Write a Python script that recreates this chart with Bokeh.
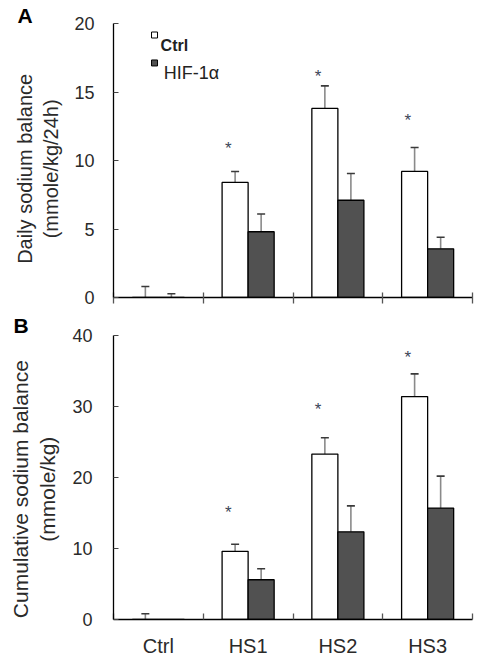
from bokeh.plotting import figure
from bokeh.models import (ColumnDataSource, Whisker, TeeHead, FixedTicker, Range1d)
from bokeh.layouts import column
from bokeh.core.properties import value
from bokeh.embed import file_html
from bokeh.resources import INLINE

categories = ["Ctrl", "HS1", "HS2", "HS3"]
series_names = ["Ctrl", "HIF-1\u03b1"]

daily_ctrl = [0.0, 8.4, 13.8, 9.2]
daily_ctrl_err = [0.8, 0.8, 1.65, 1.75]
daily_hif = [0.0, 4.8, 7.1, 3.55]
daily_hif_err = [0.27, 1.3, 1.95, 0.85]
daily_star = [None, 11.05, 16.3, 13.1]

cum_ctrl = [0.0, 9.6, 23.3, 31.4]
cum_ctrl_err = [0.8, 1.0, 2.3, 3.2]
cum_hif = [0.0, 5.6, 12.35, 15.7]
cum_hif_err = [0.0, 1.55, 3.65, 4.5]
cum_star = [None, 15.35, 29.8, 37.2]

daily_ticks = [0, 5, 10, 15, 20]
cum_ticks = [0, 10, 20, 30, 40]

FONT = "Liberation Sans"
BAR_W = 0.29
OFF = 0.145
HIF_FILL = "#515151"
NB = "\u00a0"


def make_panel(width, height, borders, ymax, yticks, ctrl, ctrl_err, hif, hif_err, star,
               show_xlabels, xtick_in, xtick_out, ylabel, ylabel_size, ylabel_standoff,
               letter, letter_offset, letter_standoff, ystandoff):
    left, right, top, bottom = borders
    p = figure(width=width, height=height, output_backend="svg", toolbar_location=None,
               x_range=Range1d(0, 4), y_range=Range1d(0, ymax),
               min_border_left=left, min_border_right=right,
               min_border_top=top, min_border_bottom=bottom)
    p.outline_line_color = None
    p.xgrid.visible = False
    p.ygrid.visible = False
    p.background_fill_color = "white"
    p.border_fill_color = "white"

    n = len(categories)
    xc = [i + 0.5 - OFF for i in range(n)]
    xh = [i + 0.5 + OFF for i in range(n)]

    p.vbar(x=xc, top=ctrl, bottom=0, width=BAR_W, fill_color="white",
           line_color="black", line_width=1.3)
    p.vbar(x=xh, top=hif, bottom=0, width=BAR_W, fill_color=HIF_FILL,
           line_color="black", line_width=1.3)

    ex, elo, ehi = [], [], []
    for xs, vals, errs in ((xc, ctrl, ctrl_err), (xh, hif, hif_err)):
        for x, v, e in zip(xs, vals, errs):
            if e > 0:
                ex.append(x)
                elo.append(v)
                ehi.append(v + e)
    src = ColumnDataSource(dict(x=ex, lower=elo, upper=ehi))
    w = Whisker(source=src, base="x", lower="lower", upper="upper", dimension="height",
                line_color="#8a8a8a", line_width=1.6,
                upper_head=TeeHead(size=8, line_color="#3a3a3a", line_width=1.6),
                lower_head=None)
    p.add_layout(w)

    sx = [x - 0.075 for x, s in zip(xc, star) if s is not None]
    sy = [s for s in star if s is not None]
    p.text(x=sx, y=sy, text=["*"] * len(sx), text_font=value(FONT), text_font_size="17px",
           text_color="#3c4658", text_align="center", text_baseline="middle", y_offset=2)

    # y axis
    ya = p.yaxis[0]
    ya.ticker = FixedTicker(ticks=yticks)
    ya.axis_line_color = "black"
    ya.axis_line_width = 1.3
    ya.major_tick_in = 5
    ya.major_tick_out = 0
    ya.major_tick_line_color = "#444444"
    ya.minor_tick_line_color = None
    ya.major_label_text_font = FONT
    ya.major_label_text_font_size = "18px"
    ya.major_label_text_color = "#2a2a2a"
    ya.major_label_standoff = ystandoff
    ya.axis_label = ylabel
    ya.axis_label_text_font = FONT
    ya.axis_label_text_font_size = ylabel_size
    ya.axis_label_text_font_style = "normal"
    ya.axis_label_text_color = "#2a2a2a"
    ya.axis_label_standoff = ylabel_standoff

    # x axis
    xa = p.xaxis[0]
    xa.ticker = FixedTicker(ticks=[i + 0.5 for i in range(n)], minor_ticks=[0, 1, 2, 3, 4])
    xa.axis_line_color = "black"
    xa.axis_line_width = 1.3
    xa.major_tick_line_color = None
    xa.minor_tick_line_color = "#555555"
    xa.minor_tick_line_width = 1.3
    xa.minor_tick_in = xtick_in
    xa.minor_tick_out = xtick_out
    if show_xlabels:
        xa.major_label_overrides = {i + 0.5: c for i, c in enumerate(categories)}
        xa.major_label_text_font = FONT
        xa.major_label_text_font_size = "20px"
        xa.major_label_text_color = "#2a2a2a"
        xa.major_label_standoff = 9
    else:
        xa.major_label_overrides = {i + 0.5: "" for i in range(n)}
        xa.major_label_text_font_size = "1px"
        xa.major_label_standoff = 0

    # panel letter as the figure title
    p.title.text = letter
    p.title.align = "left"
    p.title.offset = letter_offset
    p.title.standoff = letter_standoff
    p.title.text_font = FONT
    p.title.text_font_size = "21px"
    p.title.text_font_style = "bold"
    p.title.text_color = "black"
    return p


p1 = make_panel(496, 310, (109, 24, 23, 13), 20, daily_ticks,
                daily_ctrl, daily_ctrl_err, daily_hif, daily_hif_err, daily_star,
                False, 5, 6,
                "Daily sodium balance" + NB * 3 + "\n(mmole/kg/24h)" + NB * 3, "20px", 9,
                "A", -96, -7, 19)

# legend (inside top panel)
p1.scatter(x=[0.457], y=[19.16], marker="square", size=6, fill_color="white",
           line_color="black", line_width=1)
p1.scatter(x=[0.457], y=[17.12], marker="square", size=6, fill_color=HIF_FILL,
           line_color="black", line_width=1)
p1.text(x=[0.525], y=[18.39], text=[series_names[0]], text_font=value(FONT),
        text_font_size="16px", text_font_style="bold", text_color="#222222",
        text_align="left", text_baseline="alphabetic")
p1.text(x=[0.56], y=[16.42], text=[series_names[1]], text_font=value(FONT),
        text_font_size="18px", text_color="#222222",
        text_align="left", text_baseline="alphabetic")

p2 = make_panel(496, 354, (113, 9, 25, 45), 40, cum_ticks,
                cum_ctrl, cum_ctrl_err, cum_hif, cum_hif_err, cum_star,
                True, 6, 0,
                "Cumulative sodium balance" + NB * 4 + "\n(mmole/kg)" + NB * 4, "21px", 10,
                "B", -100, -3, 21)

layout = column(p1, p2)
open("out.html", "w").write(file_html(layout, INLINE))
